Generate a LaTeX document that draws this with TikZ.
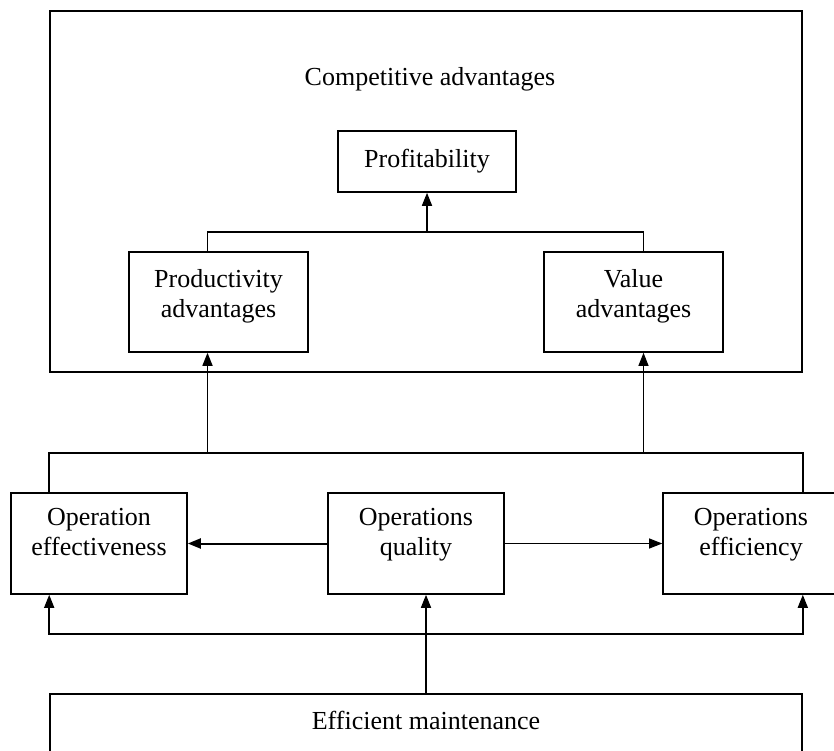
\documentclass[tikz,border=0pt]{standalone}
\usepackage{fontspec}
\setmainfont{Liberation Serif}
\usetikzlibrary{arrows.meta, positioning, calc}

\begin{document}
\begin{tikzpicture}[x=1pt, y=-1pt, >={Triangle[length=13pt,width=10pt]},
    font=\fontsize{26}{30}\selectfont,
    box/.style={draw, rectangle, line width=1.6pt, align=center, inner sep=0pt}]
        \useasboundingbox (0,0) rectangle (834,751);

        % top frame
        \node[box, minimum width=752pt, minimum height=361pt] (compbox) at (426,191.5) {};
        \node (title) at (430,79) {Competitive advantages};
        \node[box, minimum width=178pt, minimum height=61pt] (profit) at (427,161.5) {Profitability};
        \node[box, text depth=17pt, minimum width=179pt, minimum height=100pt] (prod) at (218.5,302) {Productivity\\advantages};
        \node[box, text depth=17pt, minimum width=179pt, minimum height=100pt] (value) at (633.5,302) {Value\\advantages};

        % middle row
        \node[box, text depth=23pt, minimum width=176pt, minimum height=101pt] (effect) at (99,543.5) {Operation\\effectiveness};
        \node[box, text depth=23pt, minimum width=176pt, minimum height=101pt] (quality) at (416,543.5) {Operations\\quality};
        \node[box, text depth=23pt, minimum width=176pt, minimum height=101pt] (effic) at (751,543.5) {Operations\\efficiency};

        % bottom
        \node[box, anchor=north, minimum width=752pt, minimum height=95pt] (maint) at (426,693) {};
        \node (maintlabel) at (426,720) {Efficient maintenance};

        \coordinate (split) at (profit.south |- 0,232);
        \coordinate (upper) at (0,453);
        \coordinate (lower) at (0,634);

        \draw[line width=1.6pt] ([xshift=-11pt]prod.north) |- (split) -| ([xshift=10pt]value.north);
        \draw[line width=1.6pt, ->] (split) -- (profit.south);

        \draw[line width=1.6pt] (effect.north -| compbox.west) |- (upper -| compbox.east) -- (effic.north -| compbox.east);
        \draw[line width=1.6pt, ->] ([xshift=-11pt]prod.south |- upper) -- ([xshift=-11pt]prod.south);
        \draw[line width=1pt, ->] ([xshift=10pt]value.south |- upper) -- ([xshift=10pt]value.south);

        \draw[line width=2pt, ->] (quality.west) -- (effect.east);
        \draw[line width=1pt, ->] (quality.east) -- (effic.west);

        \draw[line width=1.6pt, <->] (effect.south -| compbox.west) -- (lower -| compbox.west) -- (lower -| compbox.east) -- (effic.south -| compbox.east);
        \draw[line width=1.6pt, ->] (maint.north) -- (maint.north |- quality.south);
    \end{tikzpicture}
\end{document}
